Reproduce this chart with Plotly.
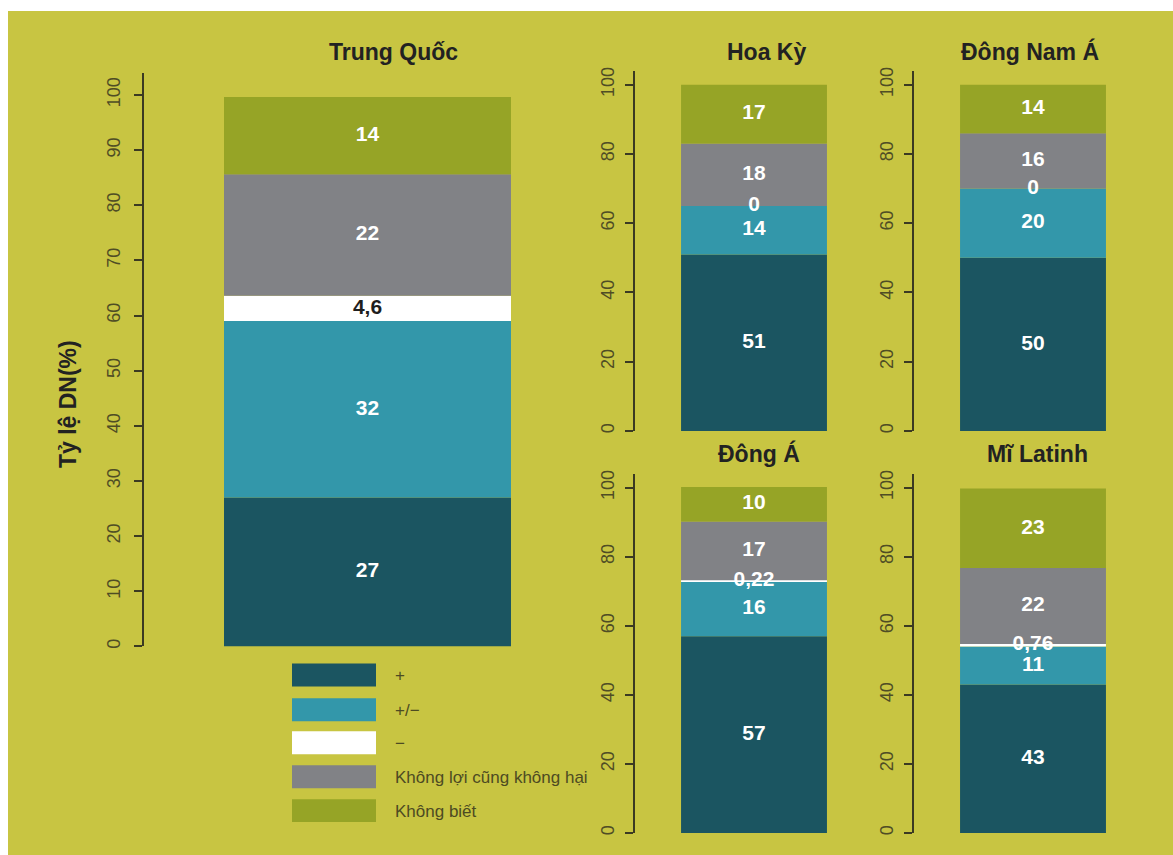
import plotly.graph_objects as go

# ---- data ----
regions = ["Trung Quốc", "Hoa Kỳ", "Đông Nam Á", "Đông Á", "Mĩ Latinh"]
categories = ["+", "+/−", "−", "Không lợi cũng không hại", "Không biết"]
trung_quoc = [27, 32, 4.6, 22, 14]
hoa_ky = [51, 14, 0, 18, 17]
dong_nam_a = [50, 20, 0, 16, 14]
dong_a = [57, 16, 0.22, 17, 10]
mi_latinh = [43, 11, 0.76, 22, 23]
series = [trung_quoc, hoa_ky, dong_nam_a, dong_a, mi_latinh]
main_ticks = list(range(0, 101, 10))
small_ticks = list(range(0, 101, 20))
y_title = "Tỷ lệ DN(%)"

colors = ["#1b5561", "#3397aa", "#ffffff", "#818286", "#96a426"]
BG = "#c8c542"
AX = "#3b3a22"
TICKC = "#4f4d25"

# body margin removed via post_script; the olive panel starts at screen (8, 11)
W, H = 1173, 855
ML, MT = 8, 11
PW, PH = W - ML, H - MT


def px(x):
    return (x - ML) / PW


def py(y):
    return 1 - (y - MT) / PH


panels = [
    dict(x=(144, 591), y=(648, 73), ticks=main_ticks, bw=0.642, standoff=7, title=(393, 52)),
    dict(x=(635, 873), y=(432, 71), ticks=small_ticks, bw=0.613, standoff=4, title=(766, 52)),
    dict(x=(914, 1152), y=(432, 71), ticks=small_ticks, bw=0.613, standoff=4, title=(1030, 52)),
    dict(x=(635, 873), y=(835, 475), ticks=small_ticks, bw=0.613, standoff=4, title=(759, 455)),
    dict(x=(914, 1152), y=(835, 475), ticks=small_ticks, bw=0.613, standoff=4, title=(1037, 455)),
]

fig = go.Figure()
layout = {}
annotations = []
# white margins (top and left) around the olive panel
shapes = [
    dict(type="rect", xref="paper", yref="paper", x0=-ML / PW - 0.01, x1=1.01, y0=1, y1=1 + (MT + 2) / PH,
         fillcolor="white", line=dict(width=0), layer="below"),
    dict(type="rect", xref="paper", yref="paper", x0=-(ML + 2) / PW, x1=0, y0=-0.01, y1=1.02,
         fillcolor="white", line=dict(width=0), layer="below"),
]

label_font = "Liberation Sans Narrow, Arial Narrow, Liberation Sans, Arial"

for i, (reg, vals, p) in enumerate(zip(regions, series, panels)):
    n = "" if i == 0 else str(i + 1)
    xa, ya = "x" + n, "y" + n
    cum = 0
    mids = []
    tcolors = []
    for c, (cat, v) in enumerate(zip(categories, vals)):
        fig.add_trace(go.Bar(x=[0], y=[v], base=[cum], width=p["bw"], xaxis=xa, yaxis=ya,
                             marker=dict(color=colors[c], line=dict(width=0)),
                             showlegend=False, hoverinfo="skip", name=cat))
        mids.append(cum + v / 2)
        cum += v
        tcolors.append("#1e1e1e" if (c == 2 and v >= 2) else "white")
    texts = [(str(v).replace(".", ",")) for v in vals]
    fig.add_trace(go.Scatter(x=[0] * len(vals), y=mids, text=texts, mode="text", xaxis=xa, yaxis=ya,
                             textfont=dict(color=tcolors, size=21, family=label_font, weight="bold"),
                             showlegend=False, hoverinfo="skip", cliponaxis=False))
    layout["xaxis" + n] = dict(domain=[px(p["x"][0]), px(p["x"][1])], range=[-0.5, 0.5],
                               visible=False, anchor=ya, fixedrange=True)
    layout["yaxis" + n] = dict(domain=[py(p["y"][0]), py(p["y"][1])], range=[0, 104],
                               anchor=xa, showline=True, linecolor=AX, linewidth=1.5,
                               ticks="outside", ticklen=8, tickcolor=AX, tickwidth=1.5,
                               tickvals=p["ticks"], tickangle=-90, showgrid=False, zeroline=False,
                               ticklabelstandoff=p["standoff"], fixedrange=True,
                               tickfont=dict(size=18, color=TICKC, family="Liberation Sans, Arial"))
    annotations.append(dict(x=px(p["title"][0]), y=py(p["title"][1]), xref="paper", yref="paper",
                            text="<b>" + reg + "</b>", showarrow=False, xanchor="center", yanchor="middle",
                            font=dict(size=23, color="#222222", family="Liberation Sans, Arial")))

annotations.append(dict(x=px(68), y=py(405), xref="paper", yref="paper", text="<b>" + y_title + "</b>",
                        textangle=-90, showarrow=False, xanchor="center", yanchor="middle",
                        font=dict(size=23, color="#222222", family="Liberation Sans, Arial")))

# manual legend
leg_top = [665, 700, 733, 767, 801]
for c, cat in enumerate(categories):
    y0 = leg_top[c]
    shapes.append(dict(type="rect", xref="paper", yref="paper", x0=px(292), x1=px(376),
                       y0=py(y0 + 23), y1=py(y0), fillcolor=colors[c], line=dict(width=0)))
    annotations.append(dict(x=px(393), y=py(y0 + 12), xref="paper", yref="paper", text=cat,
                            showarrow=False, xanchor="left", yanchor="middle",
                            font=dict(size=17, color="#4d4b22", family="Liberation Sans, Arial")))

fig.update_layout(width=W, height=H, margin=dict(l=ML, t=MT, r=0, b=0),
                  paper_bgcolor=BG, plot_bgcolor="rgba(0,0,0,0)",
                  barmode="overlay", shapes=shapes, annotations=annotations, **layout)

fig.write_html("out.html", config={"displayModeBar": False},
               post_script="document.body.style.margin='0';document.body.style.overflow='hidden';")
